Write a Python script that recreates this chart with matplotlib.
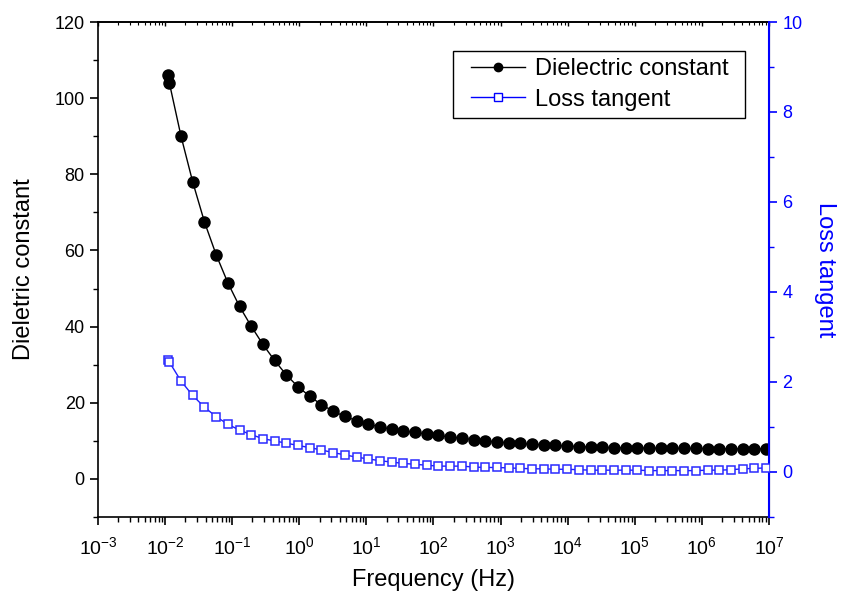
import matplotlib
matplotlib.use("Agg")
import matplotlib.pyplot as plt
from matplotlib.ticker import MultipleLocator, LogLocator, FuncFormatter, NullFormatter
from matplotlib.lines import Line2D
from matplotlib.patches import Rectangle
import math

plt.rcParams['font.family'] = ['Liberation Sans', 'DejaVu Sans']
plt.rcParams['mathtext.fontset'] = 'custom'
plt.rcParams['mathtext.rm'] = 'Liberation Sans'
plt.rcParams['mathtext.it'] = 'Liberation Sans'

# Frequency (Hz)
frequency = [0.0109, 0.0116,
             0.01726, 0.02577, 0.03855, 0.05754, 0.0861, 0.1285, 0.1919, 0.2871,
             0.4285, 0.641, 0.957, 1.430, 2.138, 3.19, 4.77, 7.13, 10.65, 15.9,
             23.8, 35.6, 53.1, 79.3, 118.6, 177, 265, 395, 590, 883,
             1318, 1972, 2944, 4395, 6577, 9817, 14690, 21930, 32730, 48980,
             73110, 109400, 163300, 243800, 364800, 544500, 814700, 1216000, 1816000, 2716000,
             4055000, 6067000, 9057000]

dielectric_constant = [106.1, 103.9,
                       90.0, 78.0, 67.5, 58.9, 51.5, 45.3, 40.1, 35.3,
                       31.1, 27.3, 24.2, 21.7, 19.5, 17.8, 16.4, 15.3, 14.4, 13.6,
                       13.1, 12.6, 12.2, 11.8, 11.4, 11.0, 10.7, 10.3, 10.0, 9.7,
                       9.5, 9.3, 9.1, 8.95, 8.8, 8.6, 8.5, 8.35, 8.25, 8.2,
                       8.15, 8.1, 8.1, 8.05, 8.0, 8.0, 8.0, 7.95, 7.95, 7.9,
                       7.9, 7.9, 7.9]

loss_tangent = [2.48, 2.44,
                2.02, 1.70, 1.44, 1.23, 1.06, 0.93, 0.83, 0.74,
                0.69, 0.64, 0.59, 0.54, 0.49, 0.43, 0.38, 0.33, 0.29, 0.25,
                0.22, 0.19, 0.17, 0.15, 0.13, 0.13, 0.13, 0.11, 0.10, 0.10,
                0.09, 0.08, 0.07, 0.07, 0.06, 0.06, 0.05, 0.04, 0.04, 0.04,
                0.04, 0.04, 0.03, 0.03, 0.03, 0.03, 0.03, 0.04, 0.04, 0.05,
                0.07, 0.08, 0.09]

x_tick_values = [1e-3, 1e-2, 1e-1, 1e0, 1e1, 1e2, 1e3, 1e4, 1e5, 1e6, 1e7]

fig = plt.figure(figsize=(8.48, 5.98), dpi=100)
ax1 = fig.add_axes([0.1156, 0.1355, 0.7912, 0.8277])
ax2 = ax1.twinx()

ax1.plot(frequency, dielectric_constant, color='black', lw=1.0, marker='o',
         markersize=8, markerfacecolor='black', markeredgecolor='black', zorder=3)
ax2.plot(frequency, loss_tangent, color='#1f1fff', lw=1.0, marker='s',
         markersize=6.3, markerfacecolor='white', markeredgecolor='#2a2aff',
         markeredgewidth=1.1, zorder=3)

ax1.set_xscale('log')
ax1.set_xlim(1e-3, 1e7)
ax1.set_ylim(-10, 120)
ax2.set_ylim(-1, 10)


def pow_fmt(v, pos):
    e = int(round(math.log10(v)))
    return r'$\mathregular{10^{%d}}$' % e


ax1.set_xticks(x_tick_values)
ax1.xaxis.set_major_formatter(FuncFormatter(pow_fmt))
ax1.xaxis.set_minor_locator(LogLocator(base=10, subs=range(2, 10), numticks=100))
ax1.xaxis.set_minor_formatter(NullFormatter())

ax1.yaxis.set_major_locator(MultipleLocator(20))
ax1.yaxis.set_minor_locator(MultipleLocator(10))
ax2.yaxis.set_major_locator(MultipleLocator(2))
ax2.yaxis.set_minor_locator(MultipleLocator(1))

ax1.tick_params(axis='both', which='major', direction='out', length=6, width=1.2,
                labelsize=13, colors='black')
ax1.tick_params(axis='both', which='minor', direction='out', length=3.5, width=1.0)
ax1.tick_params(axis='x', which='major', pad=8, labelsize=14)
ax2.tick_params(axis='y', which='major', direction='out', length=6, width=1.2,
                labelsize=13, colors='blue')
ax2.tick_params(axis='y', which='minor', direction='out', length=3.5, width=1.0,
                colors='blue')

# top ticks pointing inward
axt = ax1.secondary_xaxis('top')
axt.set_xticks(x_tick_values)
axt.xaxis.set_minor_locator(LogLocator(base=10, subs=range(2, 10), numticks=100))
axt.tick_params(which='major', direction='in', length=3, width=1.0, labeltop=False)
axt.tick_params(which='minor', direction='in', length=2, width=0.8)
axt.xaxis.set_major_formatter(NullFormatter())
axt.xaxis.set_minor_formatter(NullFormatter())
axt.spines['top'].set_linewidth(1.2)

for s in ['left', 'bottom', 'top']:
    ax1.spines[s].set_linewidth(1.2)
ax2.spines['right'].set_color('blue')
ax2.spines['right'].set_linewidth(1.5)
ax2.spines['left'].set_visible(False)
ax2.spines['bottom'].set_visible(False)
ax2.spines['top'].set_visible(False)

ax1.set_xlabel('Frequency (Hz)', fontsize=17, labelpad=8)
ax1.set_ylabel('Dieletric constant', fontsize=17, labelpad=14)
ax2.set_ylabel('Loss tangent', fontsize=17, color='blue', rotation=270, labelpad=24)

# legend with a separate frame
ax2.add_patch(Rectangle((0.529, 0.806), 0.435, 0.135, transform=ax2.transAxes,
                        facecolor='white', edgecolor='black', lw=1.0, zorder=4))
h1 = Line2D([], [], color='black', lw=1.0, marker='o', markersize=6,
            markerfacecolor='black')
h2 = Line2D([], [], color='blue', lw=1.0, marker='s', markersize=6,
            markerfacecolor='white', markeredgecolor='blue')
leg = ax2.legend([h1, h2], ['Dielectric constant', 'Loss tangent'],
                 loc='center left', bbox_to_anchor=(0.556, 0.8735), fontsize=17,
                 frameon=False, handlelength=2.3,
                 borderpad=0.0, labelspacing=0.35, handletextpad=0.4,
                 borderaxespad=0.0)
leg.set_zorder(5)

fig.savefig('out.png', dpi=100)
